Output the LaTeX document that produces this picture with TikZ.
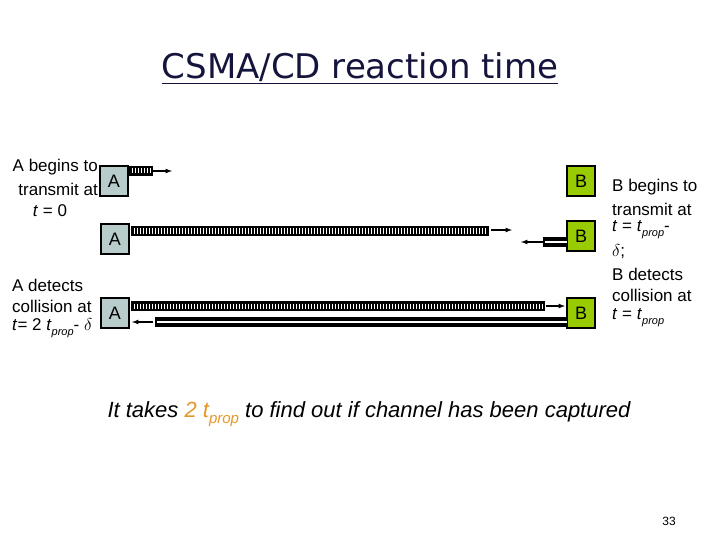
\documentclass[tikz,border=0pt]{standalone}
\usepackage{fontspec}
\setmainfont{Liberation Sans}
\newfontfamily\titlefont{DejaVu Sans}
\newcommand{\mysubp}[1][11]{\raisebox{-0.3em}{\fontsize{#1}{#1}\selectfont\itshape prop}}
\begin{document}
\begin{tikzpicture}[x=1pt,y=-1pt,
  abox/.style={draw=black,line width=1.6pt,fill={rgb,255:red,184;green,204;blue,204},minimum width=28pt,minimum height=30pt,inner sep=0pt,font=\fontsize{18}{18}\selectfont},
  bbox/.style={abox,fill={rgb,255:red,153;green,204;blue,0}},
  lbl/.style={font=\fontsize{17}{19}\selectfont,inner sep=0pt},
  arr/.style={-latex,line width=1.2pt}]
\useasboundingbox (0,0) rectangle (720,540);
\newcommand{\stripebar}[3]{% x1 x2 y-top
  \fill[black] ({#1},{#3}) rectangle ({#2},{#3+10});
  \pgfmathsetmacro\nn{int((#2-#1)/3)-1}
  \foreach \k in {1,...,\nn} \draw[white,line width=0.9pt] ({#1+3*\k},{#3+2.5}) -- ++(0,5);}
\newcommand{\dblbar}[3]{% x1 x2 y-top
  \fill[black] ({#1},{#3}) rectangle ({#2},{#3+10});
  \fill[white] ({#1+2},{#3+3.5}) rectangle ({#2},{#3+6});}
% title
\node[font=\titlefont\fontsize{34}{34}\selectfont,text={rgb,255:red,20;green,20;blue,60}] (title) at (360,68) {\underline{CSMA/CD reaction time}};
% row 1
\node[abox] (a1) at (114,181) {A};
\node[bbox] (b1) at (581,181) {B};
\stripebar{129}{153}{166}
\coordinate (s1) at (153,171); \coordinate (e1) at (172,171);
\draw[arr] (s1) -- (e1);
% row 2
\node[abox] (a2) at (115,239) {A};
\node[bbox] (b2) at (581,236) {B};
\stripebar{131}{489}{226}
\coordinate (s2) at (491,230); \coordinate (e2) at (512,230);
\draw[arr] (s2) -- (e2);
\dblbar{543}{567}{237}
\coordinate (s3) at (543,242); \coordinate (e3) at (521,242);
\draw[arr] (s3) -- (e3);
% row 3
\node[abox] (a3) at (115,313) {A};
\node[bbox] (b3) at (581,313) {B};
\stripebar{131}{545}{301}
\coordinate (s4) at (546,306); \coordinate (e4) at (565,306);
\draw[arr] (s4) -- (e4);
\dblbar{155}{567}{317}
\coordinate (s5) at (153,322); \coordinate (e5) at (132,322);
\draw[arr] (s5) -- (e5);
% left labels
\node[lbl,anchor=east] (l1) at (98,167) {A begins to};
\node[lbl,anchor=east] (l2) at (98,189) {transmit at};
\node[lbl] (l3) at (50,211) {\textit{t} = 0};
\node[lbl,anchor=west] (l4) at (12,285) {A detects};
\node[lbl,anchor=west] (l5) at (12,306) {collision at};
\node[lbl,anchor=west] (l6) at (12,328) {\textit{t}= 2 \textit{t}\mysubp- $\delta$};
% right labels
\node[lbl,anchor=west] (r1) at (612,187) {B begins to};
\node[lbl,anchor=west] (r2) at (612,209) {transmit at};
\node[lbl,anchor=west] (r3) at (612,230) {\textit{t} = \textit{t}\mysubp-};
\node[lbl,anchor=west] (r4) at (612,252) {$\delta$;};
\node[lbl,anchor=west] (r5) at (612,274) {B detects};
\node[lbl,anchor=west] (r6) at (612,295) {collision at};
\node[lbl,anchor=west] (r7) at (612,318) {\textit{t} = \textit{t}\mysubp};
% bottom
\node[font=\fontsize{22}{22}\selectfont\itshape,inner sep=0pt] (bot) at (369,414) {It takes \textcolor[RGB]{230,150,40}{2 t\mysubp[15]} to find out if channel has been captured};
\node[font=\fontsize{12}{12}\selectfont] (pg) at (669,521) {33};
\end{tikzpicture}
\end{document}
